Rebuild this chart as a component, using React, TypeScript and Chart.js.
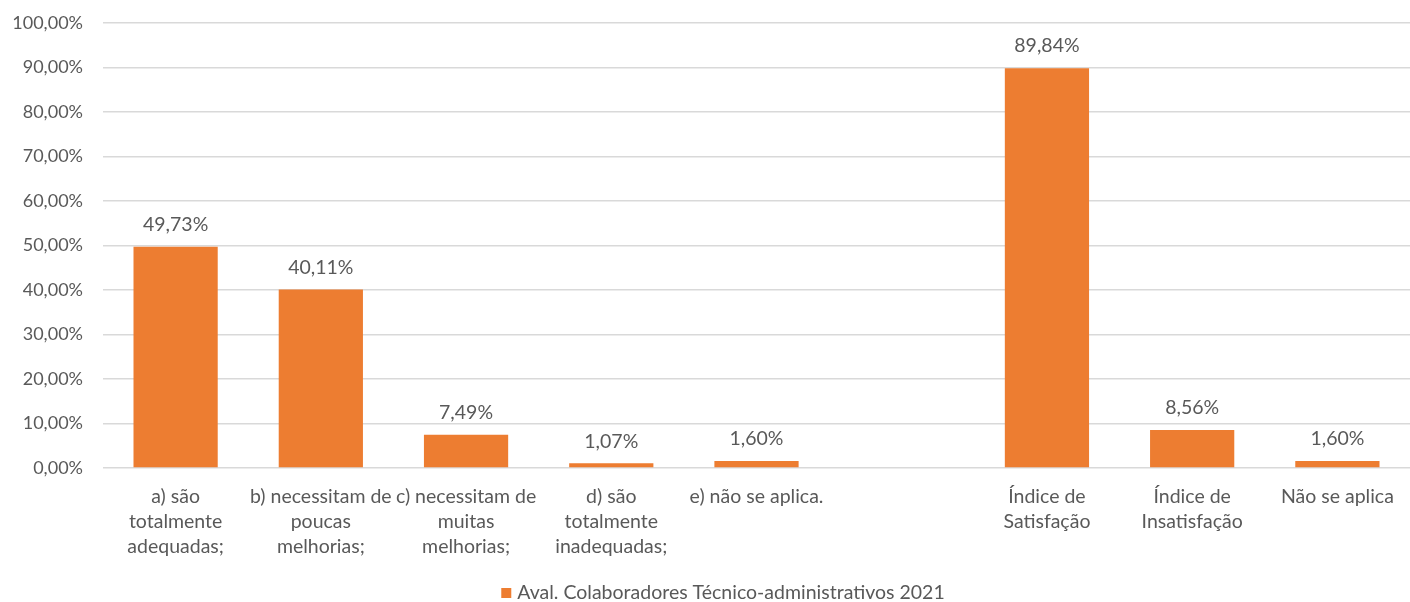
import React, { useEffect, useRef } from "react";
import { Chart, registerables } from "chart.js";

Chart.register(...registerables);

const categories: string[][] = [
  ["a) são", "totalmente", "adequadas;"],
  ["b) necessitam de", "poucas", "melhorias;"],
  ["c) necessitam de", "muitas", "melhorias;"],
  ["d) são", "totalmente", "inadequadas;"],
  ["e) não se aplica."],
  [""],
  ["Índice de", "Satisfação"],
  ["Índice de", "Insatisfação"],
  ["Não se aplica"],
];

const values: (number | null)[] = [49.73, 40.11, 7.49, 1.07, 1.6, null, 89.84, 8.56, 1.6];

const seriesName = "Aval. Colaboradores Técnico-administrativos 2021";

const yTicks: number[] = [0, 10, 20, 30, 40, 50, 60, 70, 80, 90, 100];

const FONT = "Lato, 'Open Sans', sans-serif";
const TEXT = "#595959";
const ORANGE = "#ED7D31";

const fmt = (v: number) => v.toFixed(2).replace(".", ",") + "%";

const dataLabels = {
  id: "dataLabels",
  afterDatasetsDraw(chart: any) {
    const ctx = chart.ctx;
    const meta = chart.getDatasetMeta(0);
    ctx.save();
    ctx.font = `19.5px ${FONT}`;
    ctx.fillStyle = TEXT;
    ctx.textAlign = "center";
    ctx.textBaseline = "middle";
    meta.data.forEach((el: any, i: number) => {
      const v = values[i];
      if (v === null || v === undefined) return;
      ctx.fillText(fmt(v), el.x, el.y - 22);
    });
    ctx.restore();
  },
};

const bottomLegend = {
  id: "bottomLegend",
  afterDraw(chart: any) {
    const ctx = chart.ctx;
    const ds = chart.data.datasets[0];
    ctx.save();
    ctx.font = `19.5px ${FONT}`;
    const tw = ctx.measureText(ds.label).width;
    const box = 10;
    const gap = 6;
    const total = box + gap + tw;
    const cx = 723;
    const cy = chart.height - 9;
    const x0 = cx - total / 2;
    ctx.fillStyle = ds.backgroundColor;
    ctx.fillRect(x0, cy - box / 2, box, box);
    ctx.fillStyle = TEXT;
    ctx.textAlign = "left";
    ctx.textBaseline = "middle";
    ctx.fillText(ds.label, x0 + box + gap, cy);
    ctx.restore();
  },
};

export default function App() {
  const ref = useRef<HTMLCanvasElement | null>(null);
  useEffect(() => {
    if (!ref.current) return;
    const chart = new Chart(ref.current, {
      type: "bar",
      data: {
        labels: categories,
        datasets: [
          {
            label: seriesName,
            data: values,
            backgroundColor: ORANGE,
            barPercentage: 0.58,
            categoryPercentage: 1,
          },
        ],
      },
      options: {
        animation: false,
        responsive: false,
        maintainAspectRatio: false,
        layout: { padding: { top: 23, right: 0, left: 0, bottom: 20 } },
        plugins: {
          tooltip: { enabled: false },
          legend: { display: false },
        },
        scales: {
          x: {
            grid: { display: false },
            border: { display: false },
            ticks: {
              color: TEXT,
              font: { family: FONT, size: 19.5, lineHeight: 25 / 19.5 },
              padding: 8,
              autoSkip: false,
              maxRotation: 0,
              minRotation: 0,
            },
            afterFit: (s: any) => {
              s.height = 114;
              s.paddingLeft = 0;
              s.paddingRight = 0;
            },
          },
          y: {
            min: 0,
            max: 100,
            afterBuildTicks: (s: any) => {
              s.ticks = yTicks.map((v) => ({ value: v }));
            },
            grid: { color: "#d9d9d9", lineWidth: 1.5, drawTicks: false },
            border: { display: false },
            ticks: {
              color: TEXT,
              font: { family: FONT, size: 18 },
              padding: 20,
              callback: (v: any) => fmt(Number(v)),
            },
            afterFit: (s: any) => {
              s.width = 103;
              s.paddingTop = 0;
              s.paddingBottom = 0;
            },
          },
        },
      },
      plugins: [dataLabels, bottomLegend],
    });
    return () => chart.destroy();
  }, []);
  return (
    <div style={{ position: "fixed", left: 0, top: 0, width: 1410, height: 602, overflow: "hidden", background: "#fff" }}>
      <canvas ref={ref} width={1410} height={602} />
    </div>
  );
}
